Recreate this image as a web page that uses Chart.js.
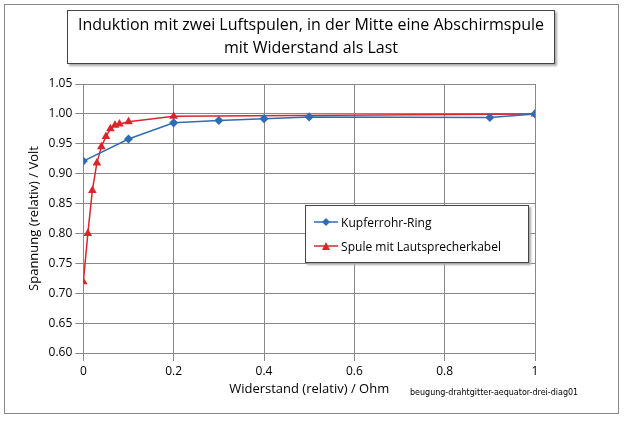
<!DOCTYPE html>
<html><head><meta charset="utf-8">
<script src="https://cdn.jsdelivr.net/npm/chart.js@4"></script>
<style>
body{margin:0;background:#fff;font-family:"Open Sans","Noto Sans",sans-serif;}
#frame{position:absolute;left:4px;top:4px;width:613px;height:408px;border:1px solid #888;}
#title{position:absolute;left:67px;top:10px;width:486px;height:50px;border:1px solid #444;text-align:center;font-size:16px;line-height:23px;padding-top:2px;color:#000;box-shadow:2px 2px 2px #aaa;}
#legend{position:absolute;left:305px;top:205px;width:222px;height:56px;border:1px solid #444;background:#fff;font-size:12px;box-shadow:2px 2px 2px #aaa;}
#legend div{position:absolute;left:8px;white-space:nowrap}
#note{position:absolute;left:410px;top:388px;font-size:8px;font-family:"DejaVu Sans",sans-serif}
</style></head><body>
<div id="frame"></div>
<canvas id="c" width="624" height="423" style="position:absolute;left:0;top:0"></canvas>
<div id="title">Induktion mit zwei Luftspulen, in der Mitte eine Abschirmspule<br>mit Widerstand als Last</div>
<div id="legend">
<div style="top:8px"><svg width="24" height="10"><line x1="0" y1="5" x2="24" y2="5" stroke="#2e6db4" stroke-width="1.5"/><path d="M12 1 L16 5 L12 9 L8 5Z" fill="#2e6db4"/></svg> Kupferrohr-Ring</div>
<div style="top:32px"><svg width="24" height="10"><line x1="0" y1="5" x2="24" y2="5" stroke="#d9262b" stroke-width="1.5"/><path d="M12 1 L16 9 L8 9Z" fill="#d9262b"/></svg> Spule mit Lautsprecherkabel</div>
</div>
<div id="note">beugung-drahtgitter-aequator-drei-diag01</div>
<script>
const ringX = [0, 0.1, 0.2, 0.3, 0.4, 0.5, 0.9, 1.0];
const ringY = [0.921, 0.958, 0.985, 0.989, 0.992, 0.995, 0.994, 1.0];
const spuleX = [0, 0.01, 0.02, 0.03, 0.04, 0.05, 0.06, 0.07, 0.08, 0.1, 0.2, 1.0];
const spuleY = [0.719, 0.80, 0.872, 0.918, 0.945, 0.962, 0.975, 0.981, 0.983, 0.987, 0.996, 1.0];
const xTicks = [0, 0.2, 0.4, 0.6, 0.8, 1];

const toPts = (xs, ys) => xs.map((x, i) => ({ x: x, y: ys[i] }));

new Chart(document.getElementById('c'), {
    type: 'scatter',
    data: {
        datasets: [{
            label: 'Kupferrohr-Ring',
            data: toPts(ringX, ringY),
            showLine: true,
            borderColor: '#2e6db4',
            backgroundColor: '#2e6db4',
            borderWidth: 1.5,
            pointStyle: 'rectRot',
            pointRadius: 3.5
        }, {
            label: 'Spule mit Lautsprecherkabel',
            data: toPts(spuleX, spuleY),
            showLine: true,
            borderColor: '#d9262b',
            backgroundColor: '#d9262b',
            borderWidth: 1.5,
            pointStyle: 'triangle',
            pointRadius: 3.5
        }]
    },
    options: {
        responsive: false,
        animation: false,
        layout: { padding: { left: 22, right: 89, top: 84, bottom: 26 } },
        plugins: { legend: { display: false }, tooltip: { enabled: false } },
        scales: {
            x: {
                type: 'linear', min: 0, max: 1,
                afterBuildTicks: ax => { ax.ticks = xTicks.map(v => ({ value: v })); },
                grid: { color: '#888', lineWidth: 1 },
                border: { color: '#888' },
                ticks: { color: '#000', font: { size: 12, family: 'Open Sans' }, callback: v => v === 0 ? '0' : v },
                title: { display: true, text: 'Widerstand (relativ) / Ohm', color: '#000', font: { size: 13, family: 'Open Sans' }, padding: 0 }
            },
            y: {
                min: 0.6, max: 1.05,
                grid: { color: '#888', lineWidth: 1 },
                border: { color: '#888' },
                ticks: { stepSize: 0.05, color: '#000', font: { size: 12, family: 'Open Sans' }, callback: v => v.toFixed(2) },
                title: { display: true, text: 'Spannung (relativ) / Volt', color: '#000', font: { size: 13, family: 'Open Sans' } }
            }
        }
    }
});
</script>
</body></html>
